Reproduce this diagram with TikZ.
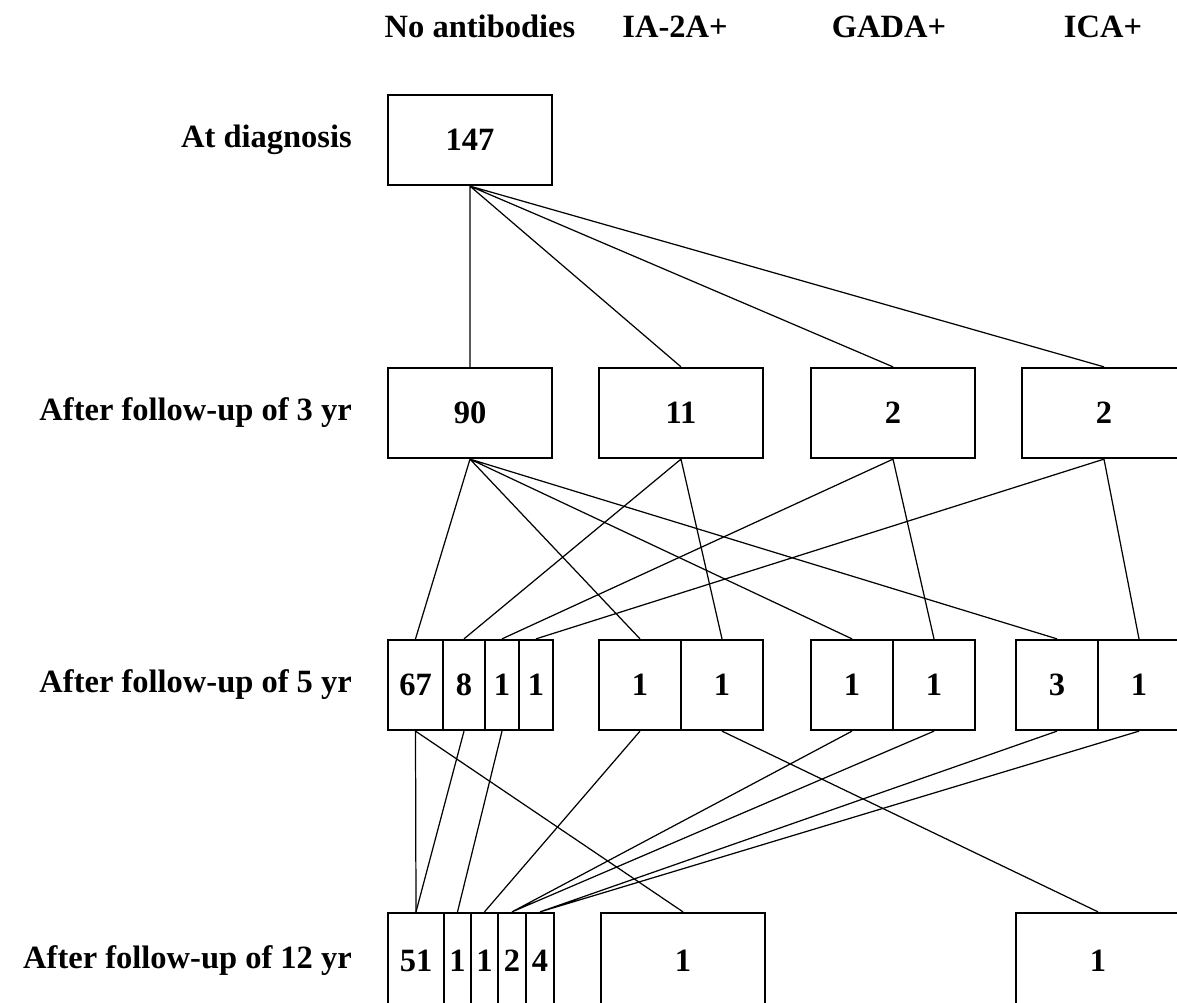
\documentclass[tikz,border=0pt]{standalone}
\usepackage{fontspec}
\setmainfont{Liberation Serif}

\begin{document}
\begin{tikzpicture}[x=0.02cm, y=-0.02cm,
    box/.style={draw, line width=1.3pt, minimum height=1.8cm, inner sep=0pt,
        font=\fontsize{18.5}{20}\selectfont\bfseries},
    lbl/.style={font=\fontsize{18.5}{20}\selectfont\bfseries},
    link/.style={line width=0.7pt}]
    \clip (0,0) rectangle (1177,1003);

    % Column headers
    \node[lbl, anchor=base] (hnone) at (480,38) {No antibodies};
    \node[lbl, anchor=base] (hia) at (675,38) {IA-2A+};
    \node[lbl, anchor=base] (hgada) at (889,38) {GADA+};
    \node[lbl, anchor=base] (hica) at (1103,38) {ICA+};

    % Row labels
    \node[lbl, anchor=east] (rdiag) at (358,140) {At diagnosis};
    \node[lbl, anchor=east] (rthree) at (358,413) {After follow-up of 3 yr};
    \node[lbl, anchor=east] (rfive) at (358,685) {After follow-up of 5 yr};
    \node[lbl, anchor=east] (rtwelve) at (358,961) {After follow-up of 12 yr};

    % At diagnosis
    \node[box, minimum width=3.28cm] (d147) at (470,140) {147};

    % After 3 yr
    \node[box, minimum width=3.28cm] (t90) at (470,413) {90};
    \node[box, minimum width=3.28cm] (t11) at (681,413) {11};
    \node[box, minimum width=3.28cm] (tgada) at (893,413) {2};
    \node[box, minimum width=3.28cm] (tica) at (1104,413) {2};

    % After 5 yr
    \node[box, minimum width=1.10cm] (f67) at (415.5,685) {67};
    \node[box, minimum width=0.84cm] (f8) at (464,685) {8};
    \node[box, minimum width=0.68cm] (f1a) at (502,685) {1};
    \node[box, minimum width=0.68cm] (f1b) at (536,685) {1};
    \node[box, minimum width=1.64cm] (fia1) at (640,685) {1};
    \node[box, minimum width=1.64cm] (fia2) at (722,685) {1};
    \node[box, minimum width=1.64cm] (fga1) at (852,685) {1};
    \node[box, minimum width=1.64cm] (fga2) at (934,685) {1};
    \node[box, minimum width=1.64cm] (fic3) at (1057,685) {3};
    \node[box, minimum width=1.64cm] (fic1) at (1139,685) {1};

    % After 12 yr
    \node[box, minimum height=1.92cm, minimum width=1.12cm] (w51) at (416,961) {51};
    \node[box, minimum height=1.92cm, minimum width=0.54cm] (w1a) at (457.5,961) {1};
    \node[box, minimum height=1.92cm, minimum width=0.54cm] (w1b) at (484.5,961) {1};
    \node[box, minimum height=1.92cm, minimum width=0.56cm] (w2) at (512,961) {2};
    \node[box, minimum height=1.92cm, minimum width=0.56cm] (w4) at (540,961) {4};
    \node[box, minimum height=1.92cm, minimum width=3.28cm] (wbig) at (683,961) {1};
    \node[box, minimum height=1.92cm, minimum width=3.28cm] (wica) at (1098,961) {1};

    % Diagnosis to 3 yr
    \draw[link] (d147.south) -- (t90.north) (d147.south) -- (t11.north)
        (d147.south) -- (tgada.north) (d147.south) -- (tica.north);

    % 3 yr to 5 yr
    \draw[link] (t90.south) -- (f67.north) (t90.south) -- (fia1.north)
        (t90.south) -- (fga1.north) (t90.south) -- (fic3.north);
    \draw[link] (t11.south) -- (f8.north) (t11.south) -- (fia2.north);
    \draw[link] (tgada.south) -- (f1a.north) (tgada.south) -- (fga2.north);
    \draw[link] (tica.south) -- (f1b.north) (tica.south) -- (fic1.north);

    % 5 yr to 12 yr
    \draw[link] (f67.south) -- (w51.north) (f67.south) -- (wbig.north);
    \draw[link] (f8.south) -- (w51.north);
    \draw[link] (f1a.south) -- (w1a.north);
    \draw[link] (fia1.south) -- (w1b.north);
    \draw[link] (fia2.south) -- (wica.north);
    \draw[link] (fga1.south) -- (w2.north) (fga2.south) -- (w2.north);
    \draw[link] (fic3.south) -- (w4.north) (fic1.south) -- (w4.north);
\end{tikzpicture}
\end{document}
